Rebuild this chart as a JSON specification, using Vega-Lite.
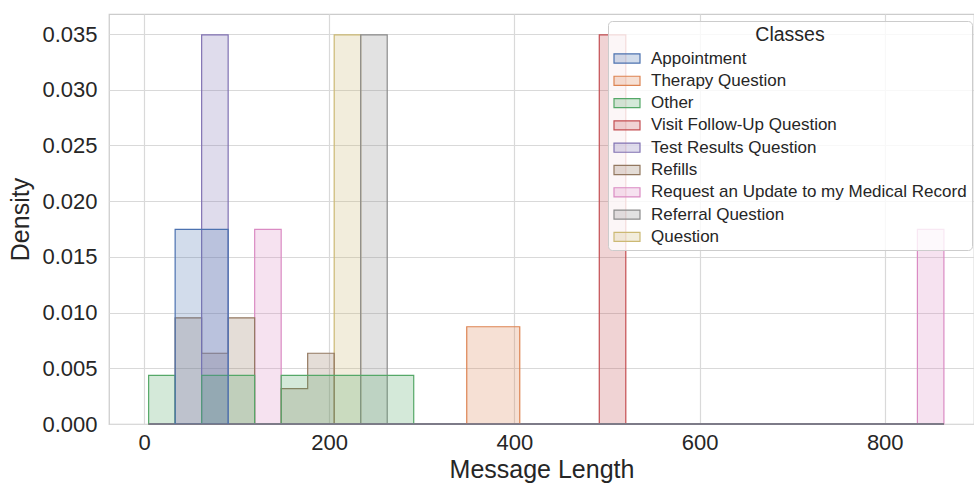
{
  "$schema": "https://vega.github.io/schema/vega-lite/v6.json",
  "width": 865,
  "height": 410,
  "autosize": {"type": "none"},
  "padding": {"left": 109, "top": 14, "right": 0, "bottom": 62},
  "background": "white",
  "config": {
    "font": "Liberation Sans",
    "view": {"stroke": "#cccccc", "strokeWidth": 1.25},
    "axis": {
      "gridColor": "#d9d9d9",
      "gridWidth": 1.2,
      "domain": false,
      "ticks": false,
      "tickSize": 0,
      "labelFontSize": 22,
      "labelColor": "#262626",
      "titleFontSize": 25,
      "titleFontWeight": "normal",
      "titleColor": "#262626"
    },
    "legend": {
      "orient": "none",
      "legendX": 499,
      "legendY": 7,
      "padding": 5,
      "fillColor": "rgba(255,255,255,0.8)",
      "strokeColor": "#cccccc",
      "cornerRadius": 4,
      "titleFontSize": 19.5,
      "titleFontWeight": "normal",
      "titleColor": "#262626",
      "titleAnchor": "middle",
      "titleAlign": "center",
      "titlePadding": -1,
      "labelFontSize": 17,
      "labelColor": "#262626",
      "labelLimit": 500,
      "labelOffset": 10,
      "symbolType": "M-1,-0.35H1V0.35H-1Z",
      "symbolSize": 676,
      "rowPadding": 0.3
    }
  },
  "data": {
    "values": [
      {"class": "Question", "length": 5.0, "density": 0},
      {"class": "Question", "length": 205.41, "density": 0.03493},
      {"class": "Question", "length": 234.04, "density": 0},
      {"class": "Question", "length": 863.9, "density": 0},
      {"class": "Referral Question", "length": 5.0, "density": 0},
      {"class": "Referral Question", "length": 234.04, "density": 0.03493},
      {"class": "Referral Question", "length": 262.67, "density": 0},
      {"class": "Referral Question", "length": 863.9, "density": 0},
      {"class": "Request an Update to my Medical Record", "length": 5.0, "density": 0},
      {"class": "Request an Update to my Medical Record", "length": 119.52, "density": 0.01746},
      {"class": "Request an Update to my Medical Record", "length": 148.15, "density": 0},
      {"class": "Request an Update to my Medical Record", "length": 835.27, "density": 0.01746},
      {"class": "Request an Update to my Medical Record", "length": 863.9, "density": 0},
      {"class": "Refills", "length": 5.0, "density": 0},
      {"class": "Refills", "length": 33.63, "density": 0.009526},
      {"class": "Refills", "length": 62.26, "density": 0.00635},
      {"class": "Refills", "length": 90.89, "density": 0.009526},
      {"class": "Refills", "length": 119.52, "density": 0},
      {"class": "Refills", "length": 148.15, "density": 0.003175},
      {"class": "Refills", "length": 176.78, "density": 0.00635},
      {"class": "Refills", "length": 205.41, "density": 0},
      {"class": "Refills", "length": 863.9, "density": 0},
      {"class": "Test Results Question", "length": 5.0, "density": 0},
      {"class": "Test Results Question", "length": 62.26, "density": 0.03493},
      {"class": "Test Results Question", "length": 90.89, "density": 0},
      {"class": "Test Results Question", "length": 863.9, "density": 0},
      {"class": "Visit Follow-Up Question", "length": 5.0, "density": 0},
      {"class": "Visit Follow-Up Question", "length": 491.71, "density": 0.03493},
      {"class": "Visit Follow-Up Question", "length": 520.34, "density": 0},
      {"class": "Visit Follow-Up Question", "length": 863.9, "density": 0},
      {"class": "Other", "length": 5.0, "density": 0.004366},
      {"class": "Other", "length": 33.63, "density": 0},
      {"class": "Other", "length": 62.26, "density": 0.004366},
      {"class": "Other", "length": 90.89, "density": 0.004366},
      {"class": "Other", "length": 119.52, "density": 0},
      {"class": "Other", "length": 148.15, "density": 0.004366},
      {"class": "Other", "length": 176.78, "density": 0.004366},
      {"class": "Other", "length": 205.41, "density": 0.004366},
      {"class": "Other", "length": 234.04, "density": 0.004366},
      {"class": "Other", "length": 262.67, "density": 0.004366},
      {"class": "Other", "length": 291.3, "density": 0},
      {"class": "Other", "length": 863.9, "density": 0},
      {"class": "Therapy Question", "length": 5.0, "density": 0},
      {"class": "Therapy Question", "length": 348.56, "density": 0.00873},
      {"class": "Therapy Question", "length": 377.19, "density": 0.00873},
      {"class": "Therapy Question", "length": 405.82, "density": 0},
      {"class": "Therapy Question", "length": 863.9, "density": 0},
      {"class": "Appointment", "length": 5.0, "density": 0},
      {"class": "Appointment", "length": 33.63, "density": 0.01746},
      {"class": "Appointment", "length": 62.26, "density": 0.01746},
      {"class": "Appointment", "length": 90.89, "density": 0},
      {"class": "Appointment", "length": 863.9, "density": 0}
    ]
  },
  "mark": {"type": "area", "interpolate": "step-after", "fillOpacity": 0.25, "strokeOpacity": 1, "strokeWidth": 1.2},
  "encoding": {
    "x": {
      "field": "length",
      "type": "quantitative",
      "scale": {"domain": [-37.8, 896.4], "nice": false, "zero": false},
      "axis": {"values": [0, 200, 400, 600, 800], "title": "Message Length", "labelPadding": 8, "titlePadding": 4}
    },
    "y": {
      "field": "density",
      "type": "quantitative",
      "stack": null,
      "scale": {"domain": [0, 0.0368], "nice": false},
      "axis": {"values": [0, 0.005, 0.01, 0.015, 0.02, 0.025, 0.03, 0.035], "format": ".3f", "title": "Density", "labelPadding": 12, "titlePadding": 8}
    },
    "fill": {
      "field": "class",
      "type": "nominal",
      "title": "Classes",
      "scale": {
        "domain": ["Appointment", "Therapy Question", "Other", "Visit Follow-Up Question", "Test Results Question", "Refills", "Request an Update to my Medical Record", "Referral Question", "Question"],
        "range": ["#4C72B0", "#DD8452", "#55A868", "#C44E52", "#8172B3", "#937860", "#DA8BC3", "#8C8C8C", "#CCB974"]
      },
      "legend": {"encode": {"symbols": {"update": {"fillOpacity": {"value": 0.25}, "strokeOpacity": {"value": 1}, "strokeWidth": {"value": 1.2}}}}}
    },
    "stroke": {
      "field": "class",
      "type": "nominal",
      "title": "Classes",
      "scale": {
        "domain": ["Appointment", "Therapy Question", "Other", "Visit Follow-Up Question", "Test Results Question", "Refills", "Request an Update to my Medical Record", "Referral Question", "Question"],
        "range": ["#4C72B0", "#DD8452", "#55A868", "#C44E52", "#8172B3", "#937860", "#DA8BC3", "#8C8C8C", "#CCB974"]
      },
      "legend": {"encode": {"symbols": {"update": {"fillOpacity": {"value": 0.25}, "strokeOpacity": {"value": 1}, "strokeWidth": {"value": 1.2}}}}}
    }
  }
}
